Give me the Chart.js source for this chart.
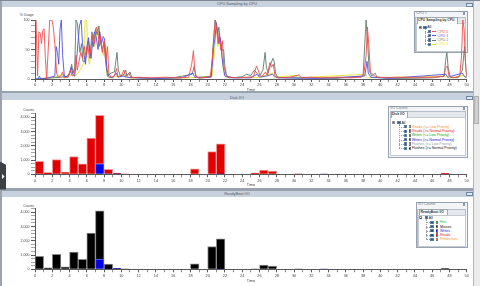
<!DOCTYPE html>
<html><head><meta charset="utf-8">
<script src="https://cdn.jsdelivr.net/npm/chart.js@4.4.1/dist/chart.umd.min.js"></script>
<style>
*{box-sizing:border-box}
html,body{margin:0;padding:0}
body{width:480px;height:286px;overflow:hidden;position:relative;background:#9aa3ad;font-family:"Liberation Sans",Arial,sans-serif;color:#333}
.a{position:absolute}
.t{position:absolute;white-space:nowrap;font-size:3.6px;line-height:4px}
canvas{position:absolute}
</style>
</head><body>
<script>
// ---------------- data ----------------
const timeMin = 0, timeMax = 50;
const cpuNames = ['CPU 0', 'CPU 1', 'CPU 2', 'CPU 3'];
const cpuColors = ['#f54c4c', '#4f4ff2', '#5c7c6d', '#e2e22a'];

const cpu0T = [0,0.12,0.3,0.45,0.6,0.75,0.9,1.05,1.2,1.35,1.55,1.7,1.95,2.1,2.3,2.5,2.7,3.0,3.2,3.35,3.8,4.1,4.3,4.55,4.75,4.9,5.1,5.3,5.5,5.7,5.9,6.1,6.3,6.5,6.7,6.9,7.1,7.3,7.45,7.6,7.8,8.0,8.2,8.4,8.55,8.8,9.2,9.45,9.6,10.0,10.3,10.5,10.9,11.1,12,13.5,15,16.5,17.8,18.15,18.35,18.5,18.7,19.5,20.3,20.55,20.75,20.9,21.05,21.2,21.35,21.5,21.7,21.85,22.1,22.4,23.5,24.5,25.3,25.65,25.85,26.05,26.3,26.7,26.9,27.2,27.4,27.6,27.8,28.2,29.5,30.6,30.8,31.8,33,35,36.5,37.8,38.1,38.35,38.5,38.65,38.85,39.1,39.4,40.5,42,44,46,47.3,47.55,47.75,47.95,48.5,49.2,49.4,49.55,49.7,49.85,50];
const cpu0V = [100,100,5,80,78,60,82,85,35,0,55,100,100,90,60,10,3,5,12,2,3,15,5,8,40,15,30,45,35,55,40,60,35,55,75,60,88,80,55,72,45,65,30,55,10,3,5,18,4,6,15,4,10,2,3,2,3,2,3,25,48,15,3,2,3,35,75,100,85,60,78,50,65,25,8,3,2,3,4,22,15,6,4,12,6,28,20,25,5,2,3,7,2,3,2,3,2,3,10,40,88,60,12,8,4,2,3,2,3,4,18,22,5,2,5,40,100,85,30,5];

const cpu1T = [0,0.4,0.5,0.7,1.5,2.3,2.45,2.6,2.75,2.9,3.05,3.2,3.4,3.8,4.0,4.2,4.35,4.6,4.8,5.0,5.15,5.35,5.5,5.7,5.85,6.0,6.2,6.35,6.5,6.7,6.9,7.1,7.3,7.5,7.7,7.9,8.05,8.2,8.35,8.6,9.0,9.4,9.6,10.2,10.6,11.5,14,17,18.3,18.5,20.4,20.7,20.85,21.0,21.15,21.3,21.45,21.6,21.8,22.0,22.5,25,25.7,26,26.8,27.5,28,33,38.2,38.45,38.6,38.9,41,47.6,47.8,49.5,49.7,50];
const cpu1V = [0,0,5,0,2,5,55,45,25,85,100,40,5,3,10,20,8,5,30,65,90,100,60,40,25,55,70,45,35,68,80,70,50,80,60,72,68,40,15,3,2,10,3,5,3,2,1,2,10,3,3,55,70,95,80,60,70,45,20,5,2,2,8,3,5,8,2,1,5,30,10,3,1,8,3,10,5,2];

const cpu2T = [0,1,2,3,3.7,4.0,4.25,4.4,4.6,4.75,4.9,5.05,5.2,5.4,5.55,5.8,6.0,6.2,6.4,6.6,6.8,7.0,7.2,7.4,7.6,7.8,8.0,8.2,8.4,8.8,9.2,9.5,9.65,9.9,10.3,10.5,10.65,11.0,11.2,12,14,16,18.2,18.45,18.6,19,20.4,20.65,20.85,21.0,21.15,21.3,21.5,21.65,21.85,22.0,22.2,23,24,24.5,25,25.4,25.7,26.0,26.4,26.65,26.8,27.0,27.3,27.55,27.7,27.85,28.1,29,31,35,38.0,38.2,38.35,38.5,38.7,39.0,39.4,39.6,42,46,47.4,47.55,47.7,47.85,48.1,49,49.5,49.75,49.9,50];
const cpu2V = [0,1,2,3,5,8,25,10,20,100,95,70,45,60,30,30,45,65,40,80,55,85,75,90,60,50,62,25,5,10,12,45,15,5,8,15,5,12,3,2,1,2,8,22,5,1,5,60,100,95,75,88,60,48,50,20,5,2,4,8,6,15,10,5,15,45,20,10,25,35,30,10,3,2,2,1,5,60,100,70,15,5,10,3,1,2,5,30,45,20,3,2,15,55,20,3];

const cpu3T = [0,2,3.3,3.5,4,4.4,4.6,5.0,5.4,5.7,5.8,6.0,6.1,6.3,6.5,6.7,6.9,7.1,7.3,7.5,7.7,7.9,8.05,8.2,8.35,8.6,9.5,10.3,11,14,18,20.5,20.8,21.0,21.2,21.4,21.55,21.7,21.9,22.2,24,26,27.5,27.7,30.2,30.4,38.3,38.5,47.6,48,49.6,50];
const cpu3V = [0,2,8,2,5,12,4,10,20,30,100,100,40,25,45,60,55,70,90,65,55,40,60,55,5,2,4,6,2,1,2,5,45,90,55,70,60,30,8,3,2,3,10,3,6,2,8,2,5,1,6,2];

// one value per 1-second bin, bins 0..49
const diskReadsNormal = [920,120,1040,160,1250,730,2550,3400,320,50, 30,0,0,0,0,0,0,0,380,0, 1600,2120,0,0,0,80,300,230,0,0, 40,0,0,0,0,0,0,0,0,0, 0,0,0,0,0,0,0,70,0,0];
const diskWritesNormal = [0,0,0,0,0,0,0,740,30,40, 0,0,0,0,0,0,0,0,0,0, 0,15,0,0,0,0,0,0,0,0, 0,0,0,30,0,0,0,0,0,0, 0,0,0,0,0,0,0,0,0,0];
const rbMisses = [910,110,1050,170,1210,700,2550,3390,350,20, 20,0,0,0,0,0,0,0,390,0, 1590,2115,0,0,0,40,300,230,0,0, 30,0,0,0,0,0,0,0,0,0, 0,0,0,0,0,0,0,50,0,0];
const rbWrites = [0,0,0,0,0,0,0,720,20,50, 0,0,0,0,0,0,0,0,0,0, 0,15,0,0,0,0,0,0,0,0, 0,0,0,30,0,0,0,0,0,0, 0,0,0,0,0,0,0,0,0,0];

const diskLegendNames = ['Reads (<= Low Priority)','Reads (>= Normal Priority)','Writes (<= Low Priority)','Writes (>= Normal Priority)','Flushes (<= Low Priority)','Flushes (>= Normal Priority)'];
const diskLegendColors = ['#f5902a','#e01818','#1aa01a','#1818e0','#9a9a9a','#111111'];
const rbLegendNames = ['Hits','Misses','Writes','Reads','Prefetches'];
const rbLegendColors = ['#22c022','#111111','#1818e0','#e01818','#f5902a'];

// ---------------- page chrome ----------------
function div(cls, x, y, w, h, css, text) {
  const d = document.createElement('div');
  d.className = cls;
  d.style.left = x + 'px'; d.style.top = y + 'px';
  if (w != null) d.style.width = w + 'px';
  if (h != null) d.style.height = h + 'px';
  if (css) d.style.cssText += ';' + css;
  if (text != null) d.textContent = text;
  document.body.appendChild(d);
  return d;
}
div('a', 0, 0, 480, 1, 'background:#7f8892');
const panels = [
  {bar:[1,7], content:[7,91], title:'CPU Sampling by CPU', ty:3.9, btn:2.7},
  {bar:[92.7,100.3], content:[100.3,188.3], title:'Disk I/O', ty:97.6, btn:95.6},
  {bar:[190.6,197], content:[197,286], title:'ReadyBoot I/O', ty:193.9, btn:191.7}
];
panels.forEach(p => {
  div('a', 1.5, p.bar[0], 471, p.bar[1]-p.bar[0], 'background:#c7d2de');
  div('a', 1.5, p.content[0], 471, p.content[1]-p.content[0], 'background:#ffffff');
  div('t', 1.5, p.ty-2, 471, 4, 'text-align:center;font-size:3.9px;color:#4d5866', p.title);
  div('a', 466.3, p.btn, 6.5, 4, 'background:#dfe8f2;border:0.6px solid #6f86a0');
});
div('a', 472.5, 1, 7.5, 285, 'background:#ececec;border-left:0.6px solid #b4b4b4');
div('a', 473.6, 96, 5.6, 28, 'background:#cfcfcf;border:0.5px solid #b0b0b0');
div('a', 0, 161.5, 6, 28, 'background:#3c3f44;clip-path:polygon(0 0,100% 12%,100% 100%,0 100%)');
div('a', 1.6, 173.5, 3, 6, 'background:#f4f4f4;clip-path:polygon(0 0,100% 50%,0 100%)');
div('t', 19.8, 13.2, null, null, 'font-size:3.4px;color:#444', '% Usage');
div('t', 23.2, 108.4, null, null, 'font-size:3.4px;color:#444', 'Counts');
div('t', 23.2, 203.6, null, null, 'font-size:3.4px;color:#444', 'Counts');

function checkbox(x, yc) {
  div('a', x, yc-1.6, 3.2, 3.2, 'background:#e6eef7;border:0.5px solid #5f7ea3');
  div('a', x+0.9, yc-0.7, 1.4, 1.4, 'background:#2f5584');
}
function legend(L) {
  const [bx,by,bw,bh] = L.box;
  div('a', bx, by, bw, bh, 'background:#f2f4f7;border:0.6px solid #97a3b2');
  div('t', bx+2, by+0.7, null, null, 'color:#6a7888', L.header);
  div('a', bx+bw-4.2, by+1.3, 2, 3, 'border:0.5px solid #8a98a8;background:#fff');
  const [tx,ty,tw,th] = L.tab;
  div('a', bx+1.2, ty-0.3, bw-2.4, by+bh-ty-0.9, 'background:#e4e7eb;border:0.5px solid #b6bec8');
  div('a', bx+1.6, ty+th, bw-3.2, by+bh-(ty+th)-1.6, 'background:#fff;border:0.5px solid #c3c9d1');
  div('a', tx, ty, tw, th+0.4, 'background:#fff;border:0.5px solid #9ea8b4;border-bottom:none');
  div('t', tx+1.3, ty+th/2-2, null, null, 'color:#333;font-weight:bold;font-size:3.4px', L.tabText);
  const a = L.all;
  div('a', a.minus, a.y-1.5, 3, 3, 'background:#fff;border:0.5px solid #999');
  div('a', a.minus+0.7, a.y-0.25, 1.6, 0.5, 'background:#555');
  checkbox(a.cb, a.y);
  div('t', a.text, a.y-2, null, null, 'color:#222', 'All');
  const lastY = L.rows[L.rows.length-1].y;
  div('a', a.cb+1.5, a.y+1.6, 0.01, lastY-a.y-1.6, 'border-left:0.5px dotted #a0a0a0');
  L.rows.forEach(r => {
    div('a', a.cb+1.5, r.y, L.cb-a.cb-1.5, 0.01, 'border-top:0.5px dotted #a0a0a0');
    checkbox(L.cb, r.y);
    if (L.swatch === 'line') {
      div('a', L.sw, r.y-0.4, 3.8, 0.8, 'background:' + r.color);
    } else {
      div('a', L.sw, r.y-1.7, 1.8, 3.4, 'background:#fff;border:0.5px solid #777');
      div('a', L.sw+0.4, r.y-0.7, 1, 1.4, 'background:' + r.color);
    }
    div('t', L.text, r.y-2, null, null, 'color:' + r.color, r.name);
  });
}
legend({box:[414.2,10.6,53.4,42.8], header:'CPU #', tab:[416.8,17.4,40.8,6], tabText:'CPU Sampling by CPU',
  all:{y:27.4, minus:418.6, cb:423.4, text:427.3}, cb:427.8, sw:432.2, swatch:'line', text:437.6,
  rows: cpuNames.map((n,i)=>({name:n, color:cpuColors[i], y:[31.6,35.8,40.0,44.2][i]}))});
legend({box:[388.3,105.7,79.3,52], header:'I/O Counts', tab:[390.6,111.4,17.6,6], tabText:'Disk I/O',
  all:{y:122.6, minus:392.2, cb:397.4, text:401.4}, cb:403.6, sw:408.6, swatch:'box', text:411.8,
  rows: diskLegendNames.map((n,i)=>({name:n, color:diskLegendColors[i], y:[126.8,131.1,135.4,139.7,144.0,148.3][i]}))});
legend({box:[416,201.6,51.6,46.7], header:'I/O Counts', tab:[419.3,208.8,28.7,6.3], tabText:'ReadyBoot I/O',
  all:{y:217.8, minus:419.4, cb:424.6, text:428.8}, cb:430.4, sw:435.6, swatch:'box', text:440,
  rows: rbLegendNames.map((n,i)=>({name:n, color:rbLegendColors[i], y:[222.3,226.6,230.9,235.1,239.4][i]}))});

// ---------------- charts ----------------
const FONT = "'Liberation Sans', Arial, sans-serif";
function mkCanvas(x, y, w, h) {
  const c = document.createElement('canvas');
  c.width = w; c.height = h;
  c.style.left = x + 'px'; c.style.top = y + 'px';
  c.style.width = w + 'px'; c.style.height = h + 'px';
  document.body.appendChild(c);
  return c;
}
function xAxis(h, tpad, stacked) {
  return {
    type:'linear', min:timeMin, max:timeMax, offset:false, stacked:stacked,
    afterFit: s => { s.height = h; },
    border:{display:true, color:'#5a5a5a', width:1},
    grid:{display:true, drawOnChartArea:false, drawTicks:true, tickLength:3, offset:false, tickWidth:1,
          tickColor: c => (c.tick && c.tick.value % 2 === 0) ? '#5a5a5a' : '#8c8c8c'},
    ticks:{stepSize:1, autoSkip:false, maxRotation:0, minRotation:0, padding:1.3, color:'#444',
           font:{family:FONT, size:3.8, lineHeight:1}, callback: v => (v % 2 === 0 ? String(v) : '')},
    title:{display:true, text:'Time', color:'#444', font:{family:FONT, size:3.8, lineHeight:1}, padding:{top:0, bottom:tpad}}
  };
}
function yAxis(max, step, major, stacked) {
  return {
    type:'linear', min:0, max:max, stacked:stacked,
    afterFit: s => { s.width = 33; },
    border:{display:true, color:'#5a5a5a', width:1},
    grid:{display:true, drawOnChartArea:false, drawTicks:true, tickLength:4, tickWidth:1,
          tickColor: c => (c.tick && Math.round(c.tick.value) % major === 0) ? '#5a5a5a' : '#a6a6a6'},
    ticks:{stepSize:step, autoSkip:false, includeBounds:false, padding:1.6, color:'#444',
           font:{family:FONT, size:3.6, lineHeight:1},
           callback: v => (Math.round(v) % major === 0 && Math.round(v) <= max - step ? Math.round(v).toLocaleString('en-US') : '')}
  };
}
const basePlugins = {legend:{display:false}, tooltip:{enabled:false}, title:{display:false}};

const cpuT = [cpu0T, cpu1T, cpu2T, cpu3T];
const cpuV = [cpu0V, cpu1V, cpu2V, cpu3V];
new Chart(mkCanvas(2, 7, 470, 86), {
  type:'line',
  data:{datasets: cpuNames.map((n,i) => ({
    label:n, data: cpuT[i].map((t,j) => ({x:t, y:cpuV[i][j]})),
    borderColor:cpuColors[i], borderWidth:0.9, pointRadius:0, tension:0, fill:false
  }))},
  options:{responsive:false, animation:false, devicePixelRatio:1,
    layout:{padding:{left:0, right:5.3, top:13, bottom:0}},
    scales:{x:xAxis(14, 1.1, false), y:yAxis(100, 10, 50, false)},
    plugins:basePlugins}
});
// patch: CPU y-axis shows 100 at the top
Chart.getChart(document.querySelectorAll('canvas')[0]).options.scales.y.ticks.callback = v => (v % 50 === 0 ? String(v) : '');
Chart.getChart(document.querySelectorAll('canvas')[0]).update();

function barChart(canvas, padTop, xh, tpad, lower, upper, lowerStyle, upperStyle) {
  const mk = (vals, st, label) => ({
    label, data: vals.map((v,i) => ({x:i+0.5, y:v})),
    backgroundColor:st.bg, borderColor:st.bd, borderWidth:1,
    barPercentage:1, categoryPercentage:1
  });
  new Chart(canvas, {
    type:'bar',
    data:{datasets:[mk(lower, lowerStyle, 'lower'), mk(upper, upperStyle, 'upper')]},
    options:{responsive:false, animation:false, devicePixelRatio:1,
      layout:{padding:{left:0, right:5.3, top:padTop, bottom:0}},
      scales:{x:xAxis(xh, tpad, true), y:yAxis(4250, 250, 1000, true)},
      plugins:basePlugins}
  });
}
barChart(mkCanvas(2, 100.3, 470, 88), 13.86, 13.7, 1.1, diskWritesNormal, diskReadsNormal,
  {bg:'#0000e4', bd:'#6a6af0'}, {bg:'#e20000', bd:'#f39a9a'});
barChart(mkCanvas(2, 197, 470, 89), 11.74, 16.7, 3.4, rbWrites, rbMisses,
  {bg:'#0000e4', bd:'#6a6af0'}, {bg:'#000000', bd:'#8a8a8a'});
</script>
</body></html>
